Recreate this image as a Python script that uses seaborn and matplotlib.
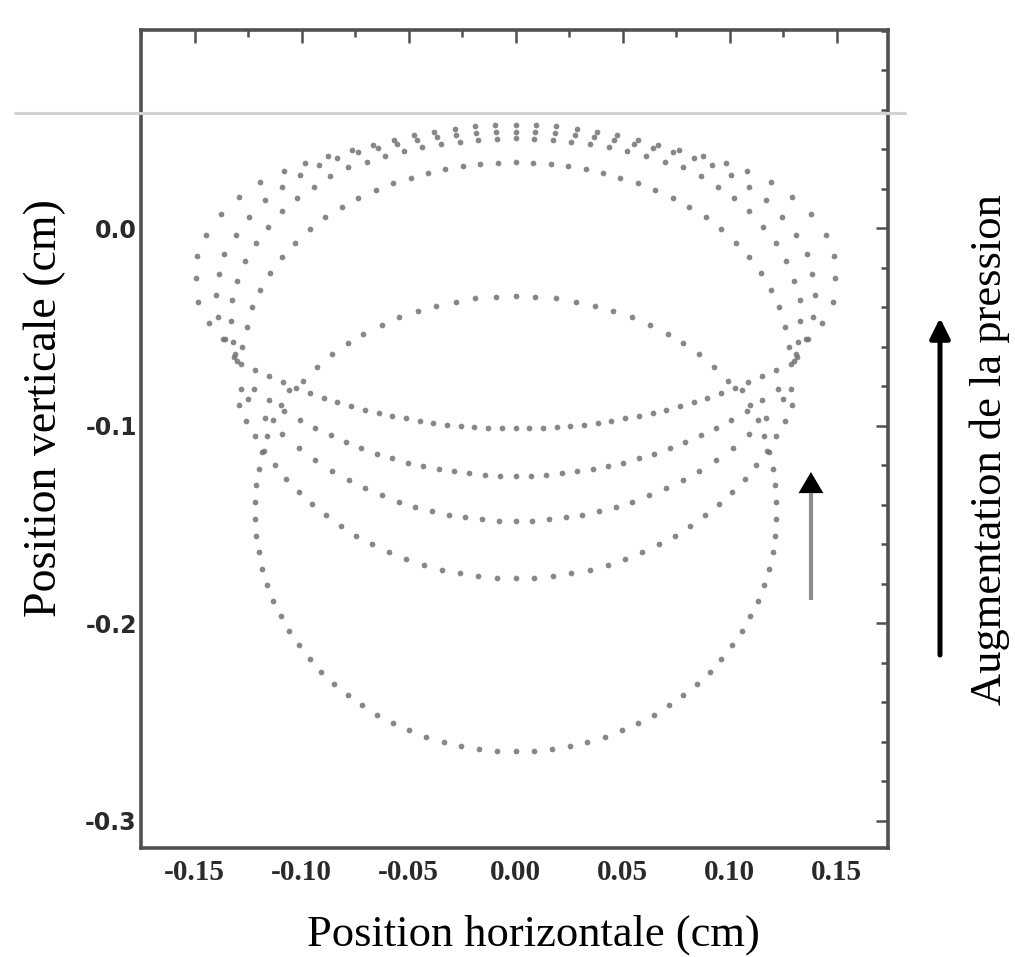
import matplotlib
matplotlib.use("Agg")
import matplotlib.pyplot as plt
import seaborn as sns
import pandas as pd
from matplotlib.lines import Line2D
from matplotlib.ticker import FixedLocator, FixedFormatter, MultipleLocator

# ---------------- data (cm) ----------------
# lowest-pressure shape: lower circle part and its cap
ring_x = [-0.1057, -0.1097, -0.1131, -0.1160, -0.1184, -0.1201, -0.1213, -0.1219, -0.1219, -0.1213, -0.1201, -0.1184, -0.1160, -0.1131, -0.1097, -0.1057, -0.1011, -0.0961, -0.0907, -0.0848, -0.0784, -0.0717, -0.0646, -0.0573, -0.0496, -0.0417, -0.0336, -0.0254, -0.0170, -0.0085, 0.0, 0.0085, 0.0170, 0.0254, 0.0336, 0.0417, 0.0496, 0.0573, 0.0646, 0.0717, 0.0784, 0.0848, 0.0907, 0.0961, 0.1011, 0.1057, 0.1097, 0.1131, 0.1160, 0.1184, 0.1201, 0.1213, 0.1219, 0.1219, 0.1213, 0.1201, 0.1184, 0.1160, 0.1131, 0.1097, 0.1057]
ring_y = [-0.0820, -0.0895, -0.0973, -0.1053, -0.1135, -0.1218, -0.1303, -0.1387, -0.1473, -0.1557, -0.1642, -0.1725, -0.1807, -0.1887, -0.1965, -0.2040, -0.2112, -0.2181, -0.2246, -0.2308, -0.2365, -0.2417, -0.2465, -0.2507, -0.2544, -0.2576, -0.2603, -0.2623, -0.2638, -0.2647, -0.2650, -0.2647, -0.2638, -0.2623, -0.2603, -0.2576, -0.2544, -0.2507, -0.2465, -0.2417, -0.2365, -0.2308, -0.2246, -0.2181, -0.2112, -0.2040, -0.1965, -0.1887, -0.1807, -0.1725, -0.1642, -0.1557, -0.1473, -0.1387, -0.1303, -0.1218, -0.1135, -0.1053, -0.0973, -0.0895, -0.0820]

cap0_x = [-0.0992, -0.0926, -0.0857, -0.0782, -0.0712, -0.0626, -0.0545, -0.0456, -0.0372, -0.0280, -0.0188, -0.0093, 0.0, 0.0093, 0.0188, 0.0280, 0.0372, 0.0456, 0.0545, 0.0626, 0.0712, 0.0782, 0.0857, 0.0926, 0.0992]
cap0_y = [-0.0772, -0.0702, -0.0638, -0.0583, -0.0535, -0.0489, -0.0452, -0.0419, -0.0393, -0.0372, -0.0356, -0.0347, -0.0344, -0.0347, -0.0356, -0.0372, -0.0393, -0.0419, -0.0452, -0.0489, -0.0535, -0.0583, -0.0638, -0.0702, -0.0772]

# lower menisci
s1_x = [-0.1216, -0.1152, -0.1088, -0.1024, -0.0960, -0.0896, -0.0832, -0.0768, -0.0704, -0.0640, -0.0576, -0.0512, -0.0448, -0.0384, -0.0320, -0.0256, -0.0192, -0.0128, -0.0064, 0.0, 0.0064, 0.0128, 0.0192, 0.0256, 0.0320, 0.0384, 0.0448, 0.0512, 0.0576, 0.0640, 0.0704, 0.0768, 0.0832, 0.0896, 0.0960, 0.1024, 0.1088, 0.1152, 0.1216]
s1_y = [-0.0719, -0.0751, -0.0780, -0.0808, -0.0834, -0.0858, -0.0880, -0.0900, -0.0919, -0.0936, -0.0951, -0.0964, -0.0976, -0.0986, -0.0995, -0.1002, -0.1007, -0.1011, -0.1013, -0.1014, -0.1013, -0.1011, -0.1007, -0.1002, -0.0995, -0.0986, -0.0976, -0.0964, -0.0951, -0.0936, -0.0919, -0.0900, -0.0880, -0.0858, -0.0834, -0.0808, -0.0780, -0.0751, -0.0719]

s2_x = [-0.1224, -0.1152, -0.1080, -0.1008, -0.0936, -0.0864, -0.0792, -0.0720, -0.0648, -0.0576, -0.0504, -0.0432, -0.0360, -0.0288, -0.0216, -0.0144, -0.0072, 0.0, 0.0072, 0.0144, 0.0216, 0.0288, 0.0360, 0.0432, 0.0504, 0.0576, 0.0648, 0.0720, 0.0792, 0.0864, 0.0936, 0.1008, 0.1080, 0.1152, 0.1224]
s2_y = [-0.0816, -0.0873, -0.0924, -0.0970, -0.1012, -0.1050, -0.1084, -0.1115, -0.1142, -0.1166, -0.1187, -0.1205, -0.1220, -0.1232, -0.1242, -0.1249, -0.1253, -0.1254, -0.1253, -0.1249, -0.1242, -0.1232, -0.1220, -0.1205, -0.1187, -0.1166, -0.1142, -0.1115, -0.1084, -0.1050, -0.1012, -0.0970, -0.0924, -0.0873, -0.0816]

s3_x = [-0.1248, -0.1170, -0.1092, -0.1014, -0.0936, -0.0858, -0.0780, -0.0702, -0.0624, -0.0546, -0.0468, -0.0390, -0.0312, -0.0234, -0.0156, -0.0078, 0.0, 0.0078, 0.0156, 0.0234, 0.0312, 0.0390, 0.0468, 0.0546, 0.0624, 0.0702, 0.0780, 0.0858, 0.0936, 0.1014, 0.1092, 0.1170, 0.1248]
s3_y = [-0.0866, -0.0960, -0.1041, -0.1112, -0.1174, -0.1228, -0.1276, -0.1317, -0.1354, -0.1385, -0.1412, -0.1434, -0.1452, -0.1465, -0.1475, -0.1481, -0.1483, -0.1481, -0.1475, -0.1465, -0.1452, -0.1434, -0.1412, -0.1385, -0.1354, -0.1317, -0.1276, -0.1228, -0.1174, -0.1112, -0.1041, -0.0960, -0.0866]

s4_x = [-0.1285, -0.1290, -0.1258, -0.1218, -0.1174, -0.1125, -0.1071, -0.1013, -0.0951, -0.0886, -0.0817, -0.0745, -0.0670, -0.0592, -0.0512, -0.0430, -0.0346, -0.0260, -0.0174, -0.0087, 0.0, 0.0087, 0.0174, 0.0260, 0.0346, 0.0430, 0.0512, 0.0592, 0.0670, 0.0745, 0.0817, 0.0886, 0.0951, 0.1013, 0.1071, 0.1125, 0.1174, 0.1218, 0.1258, 0.1290, 0.1285]
s4_y = [-0.0815, -0.0895, -0.0975, -0.1053, -0.1128, -0.1200, -0.1269, -0.1335, -0.1396, -0.1454, -0.1508, -0.1557, -0.1601, -0.1641, -0.1675, -0.1705, -0.1729, -0.1748, -0.1762, -0.1770, -0.1773, -0.1770, -0.1762, -0.1748, -0.1729, -0.1705, -0.1675, -0.1641, -0.1601, -0.1557, -0.1508, -0.1454, -0.1396, -0.1335, -0.1269, -0.1200, -0.1128, -0.1053, -0.0975, -0.0895, -0.0815]

# upper caps
t2_x = [-0.1285, -0.1276, -0.1257, -0.1232, -0.1192, -0.1145, -0.1090, -0.1029, -0.0959, -0.0889, -0.0812, -0.0734, -0.0652, -0.0572, -0.0490, -0.0410, -0.0328, -0.0246, -0.0164, -0.0082, 0.0, 0.0082, 0.0164, 0.0246, 0.0328, 0.0410, 0.0490, 0.0572, 0.0652, 0.0734, 0.0812, 0.0889, 0.0959, 0.1029, 0.1090, 0.1145, 0.1192, 0.1232, 0.1257, 0.1276, 0.1285]
t2_y = [-0.0690, -0.0600, -0.0500, -0.0400, -0.0314, -0.0228, -0.0147, -0.0076, -0.0005, 0.0056, 0.0106, 0.0152, 0.0193, 0.0226, 0.0256, 0.0280, 0.0299, 0.0314, 0.0325, 0.0332, 0.0334, 0.0332, 0.0325, 0.0314, 0.0299, 0.0280, 0.0256, 0.0226, 0.0193, 0.0152, 0.0106, 0.0056, -0.0005, -0.0076, -0.0147, -0.0228, -0.0314, -0.0400, -0.0500, -0.0600, -0.0690]

o1_x = [-0.1300, -0.1320, -0.1331, -0.1327, -0.1300, -0.1262, -0.1215, -0.1158, -0.1091, -0.1021, -0.0944, -0.0866, -0.0781, -0.0696, -0.0609, -0.0522, -0.0435, -0.0348, -0.0261, -0.0174, -0.0087, 0.0, 0.0087, 0.0174, 0.0261, 0.0348, 0.0435, 0.0522, 0.0609, 0.0696, 0.0781, 0.0866, 0.0944, 0.1021, 0.1091, 0.1158, 0.1215, 0.1262, 0.1300, 0.1327, 0.1331, 0.1320, 0.1300]
o1_y = [-0.0675, -0.0577, -0.0471, -0.0365, -0.0267, -0.0165, -0.0078, 0.0007, 0.0086, 0.0150, 0.0209, 0.0265, 0.0307, 0.0337, 0.0365, 0.0389, 0.0409, 0.0426, 0.0438, 0.0448, 0.0453, 0.0455, 0.0453, 0.0448, 0.0438, 0.0426, 0.0409, 0.0389, 0.0365, 0.0337, 0.0307, 0.0265, 0.0209, 0.0150, 0.0086, 0.0007, -0.0078, -0.0165, -0.0267, -0.0365, -0.0471, -0.0577, -0.0675]

o2_x = [-0.1315, -0.1359, -0.1388, -0.1401, -0.1386, -0.1363, -0.1308, -0.1246, -0.1169, -0.1091, -0.1006, -0.0920, -0.0835, -0.0736, -0.0644, -0.0552, -0.0460, -0.0368, -0.0276, -0.0184, -0.0092, 0.0, 0.0092, 0.0184, 0.0276, 0.0368, 0.0460, 0.0552, 0.0644, 0.0736, 0.0835, 0.0920, 0.1006, 0.1091, 0.1169, 0.1246, 0.1308, 0.1363, 0.1386, 0.1401, 0.1388, 0.1359, 0.1315]
o2_y = [-0.0655, -0.0560, -0.0449, -0.0339, -0.0233, -0.0132, -0.0035, 0.0057, 0.0142, 0.0209, 0.0268, 0.0319, 0.0355, 0.0383, 0.0407, 0.0428, 0.0446, 0.0461, 0.0472, 0.0480, 0.0485, 0.0487, 0.0485, 0.0480, 0.0472, 0.0461, 0.0446, 0.0428, 0.0407, 0.0383, 0.0355, 0.0319, 0.0268, 0.0209, 0.0142, 0.0057, -0.0035, -0.0132, -0.0233, -0.0339, -0.0449, -0.0560, -0.0655]

o3_x = [-0.1310, -0.1365, -0.1432, -0.1484, -0.1494, -0.1487, -0.1448, -0.1378, -0.1290, -0.1192, -0.1083, -0.0982, -0.0877, -0.0765, -0.0665, -0.0570, -0.0475, -0.0380, -0.0285, -0.0190, -0.0095, 0.0, 0.0095, 0.0190, 0.0285, 0.0380, 0.0475, 0.0570, 0.0665, 0.0765, 0.0877, 0.0982, 0.1083, 0.1192, 0.1290, 0.1378, 0.1448, 0.1487, 0.1494, 0.1484, 0.1432, 0.1365, 0.1310]
o3_y = [-0.0640, -0.0560, -0.0483, -0.0373, -0.0255, -0.0142, -0.0035, 0.0071, 0.0155, 0.0231, 0.0290, 0.0330, 0.0365, 0.0395, 0.0420, 0.0447, 0.0471, 0.0489, 0.0504, 0.0515, 0.0521, 0.0523, 0.0521, 0.0515, 0.0504, 0.0489, 0.0471, 0.0447, 0.0420, 0.0395, 0.0365, 0.0330, 0.0290, 0.0231, 0.0155, 0.0071, -0.0035, -0.0142, -0.0255, -0.0373, -0.0483, -0.0560, -0.0640]

x_ticks = [-0.15, -0.10, -0.05, 0.00, 0.05, 0.10, 0.15]
x_tick_labels = ["-0.15", "-0.10", "-0.05", "0.00", "0.05", "0.10", "0.15"]
y_ticks = [0.0, -0.1, -0.2, -0.3]
y_tick_labels = ["0.0", "-0.1", "-0.2", "-0.3"]

x_label = "Position horizontale (cm)"
y_label = "Position verticale (cm)"
side_label = "Augmentation de la pression"

# ---------------- figure ----------------
sns.set_style("white")
plt.rcParams["font.family"] = ["Liberation Serif", "DejaVu Sans"]

W, H = 1015, 957
fig = plt.figure(figsize=(W / 100, H / 100), dpi=100)
fig.patch.set_facecolor("white")
ax = fig.add_axes([141 / W, 1 - 848 / H, (888 - 141) / W, (848 - 30) / H])

curves = {
    "ring": (ring_x, ring_y), "cap0": (cap0_x, cap0_y),
    "s1": (s1_x, s1_y), "s2": (s2_x, s2_y), "s3": (s3_x, s3_y), "s4": (s4_x, s4_y),
    "t2": (t2_x, t2_y), "o1": (o1_x, o1_y), "o2": (o2_x, o2_y), "o3": (o3_x, o3_y),
}
df = pd.concat([pd.DataFrame({"x": cx, "y": cy, "curve": name})
                for name, (cx, cy) in curves.items()], ignore_index=True)

sns.scatterplot(data=df, x="x", y="y", color="#737373", s=17, linewidth=0,
                marker="o", alpha=0.85, ax=ax, legend=False)

ax.set_xlim(-0.175, 0.174)
ax.set_ylim(-0.3139, 0.1003)

ax.xaxis.set_major_locator(FixedLocator(x_ticks))
ax.xaxis.set_major_formatter(FixedFormatter(x_tick_labels))
ax.xaxis.set_minor_locator(MultipleLocator(0.025))
ax.yaxis.set_major_locator(FixedLocator(y_ticks))
ax.yaxis.set_major_formatter(FixedFormatter(y_tick_labels))
ax.yaxis.set_minor_locator(MultipleLocator(0.02))

ax.tick_params(which="both", direction="in", top=True, right=True,
               color="#505050", width=1.8)
ax.tick_params(which="major", length=9)
ax.tick_params(which="minor", length=5)
ax.tick_params(axis="x", which="major", pad=8)
ax.tick_params(axis="y", which="major", pad=3)

for lab in ax.get_xticklabels():
    lab.set_fontfamily("Liberation Serif")
    lab.set_fontweight("bold")
    lab.set_fontsize(21)
    lab.set_color("#2a2a2a")
for lab in ax.get_yticklabels():
    lab.set_fontfamily("DejaVu Sans")
    lab.set_fontweight("bold")
    lab.set_fontsize(17)
    lab.set_color("#2a2a2a")

for sp in ax.spines.values():
    sp.set_color("#505050")
    sp.set_linewidth(2.6)

ax.set_xlabel("")
ax.set_ylabel("")
fig.text(533 / W, 1 - 935 / H, x_label, ha="center", va="center",
         fontsize=32, family="Liberation Serif", color="black")
fig.text(45 / W, 1 - 408 / H, y_label, ha="center", va="center", rotation=90,
         fontsize=33, family="Liberation Serif", color="black")
fig.text(990 / W, 1 - 450 / H, side_label, ha="center", va="center", rotation=90,
         fontsize=32, family="Liberation Serif", color="black")

# light grey reference line across the plot
fig.add_artist(Line2D([15 / W, 905 / W], [1 - 113 / H, 1 - 113 / H],
                      color="#d2d2d2", lw=2.2))

# big black arrow outside the axes
ax.annotate("", xy=(940 / W, 1 - 318 / H), xytext=(940 / W, 1 - 655 / H),
            xycoords="figure fraction", textcoords="figure fraction",
            arrowprops=dict(arrowstyle="-|>,head_length=0.8,head_width=0.4",
                            lw=3.6, color="black", mutation_scale=15,
                            shrinkA=0, shrinkB=0))

# small grey arrow inside the axes
ax.plot([0.138, 0.138], [-0.1884, -0.1340], color="#8c8c8c", lw=3,
        solid_capstyle="butt")
ax.fill([0.1322, 0.1438, 0.138], [-0.1342, -0.1342, -0.1235], color="black", lw=0)

fig.savefig("out.png", dpi=100, facecolor="white")
